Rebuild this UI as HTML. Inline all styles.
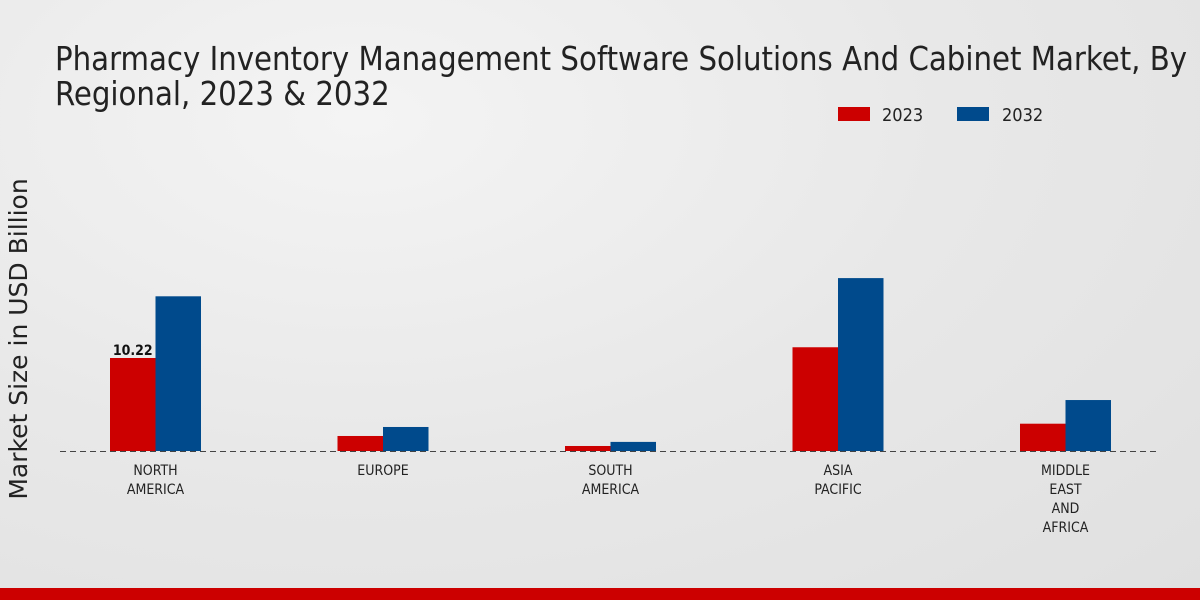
<!DOCTYPE html>
<html><head><meta charset="utf-8"><style>
body{margin:0;width:1200px;height:600px;overflow:hidden;font-family:"DejaVu Sans Condensed","DejaVu Sans","Liberation Sans",sans-serif;}
#bg{position:absolute;left:0;top:0;width:1200px;height:600px;background:radial-gradient(ellipse at 30% 20%,#f4f4f4 0%,#e8e8e8 50%,#e0e0e0 100%);}
</style></head><body>
<div id="bg"></div>
<svg id="c" width="1200" height="600" style="position:absolute;left:0;top:0">
<text x="55" y="70" font-size="32.5" fill="#222" font-family="DejaVu Sans Condensed, DejaVu Sans, sans-serif">Pharmacy Inventory Management Software Solutions And Cabinet Market, By</text>
<text x="55" y="105" font-size="32.5" fill="#222" font-family="DejaVu Sans Condensed, DejaVu Sans, sans-serif">Regional, 2023 &amp; 2032</text>
<text transform="translate(27,339) rotate(-90)" text-anchor="middle" font-size="25" fill="#222" font-family="DejaVu Sans, sans-serif">Market Size in USD Billion</text>
<g>
<rect x="838" y="107" width="32" height="14" fill="#cc0000"/>
<text x="882" y="121" font-size="18" fill="#222">2023</text>
<rect x="957" y="107" width="32" height="14" fill="#004a8c"/>
<text x="1002" y="121" font-size="18" fill="#222">2032</text>
</g>
<line x1="60" y1="451.5" x2="1160" y2="451.5" stroke="#444" stroke-dasharray="6,4"/>
<g id="bars"></g>
<rect x="0" y="588" width="1200" height="12" fill="#cc0000"/>
</svg>
<script>
const categories=[["NORTH","AMERICA"],["EUROPE"],["SOUTH","AMERICA"],["ASIA","PACIFIC"],["MIDDLE","EAST","AND","AFRICA"]];
const values2023=[10.22,1.65,0.55,11.4,3.0];
const values2032=[17.0,2.64,1.0,19.0,5.6];
const labels2023=["10.22","","","",""];
const base=451, pxPerUnit=9.1, x0=155.5, step=227.5, bw=45.5;
const y=v=>base-v*pxPerUnit;
const xc=i=>x0+i*step;
const g=document.getElementById('bars');
const NS="http://www.w3.org/2000/svg";
categories.forEach((cat,i)=>{
  const r=document.createElementNS(NS,'rect');
  r.setAttribute('x',xc(i)-bw);r.setAttribute('y',y(values2023[i]));r.setAttribute('width',bw);r.setAttribute('height',base-y(values2023[i]));r.setAttribute('fill','#cc0000');
  
  
  g.appendChild(r);
  const b=document.createElementNS(NS,'rect');
  b.setAttribute('x',xc(i));b.setAttribute('y',y(values2032[i]));b.setAttribute('width',bw);b.setAttribute('height',base-y(values2032[i]));b.setAttribute('fill','#004a8c');
  
  
  g.appendChild(b);
  if(labels2023[i]){
    const t=document.createElementNS(NS,'text');
    t.setAttribute('x',xc(i)-bw/2);t.setAttribute('y',y(values2023[i])-3);t.setAttribute('text-anchor','middle');t.setAttribute('font-size','14');t.setAttribute('font-weight','bold');t.setAttribute('fill','#111');
    t.textContent=labels2023[i];
    
    
    g.appendChild(t);
  }
  cat.forEach((ln,k)=>{
    const t=document.createElementNS(NS,'text');
    t.setAttribute('x',xc(i));t.setAttribute('y',475+k*19);t.setAttribute('text-anchor','middle');t.setAttribute('font-size','14');t.setAttribute('fill','#222');
    t.textContent=ln;
    
    
    g.appendChild(t);
  });
});
</script>
</body></html>
